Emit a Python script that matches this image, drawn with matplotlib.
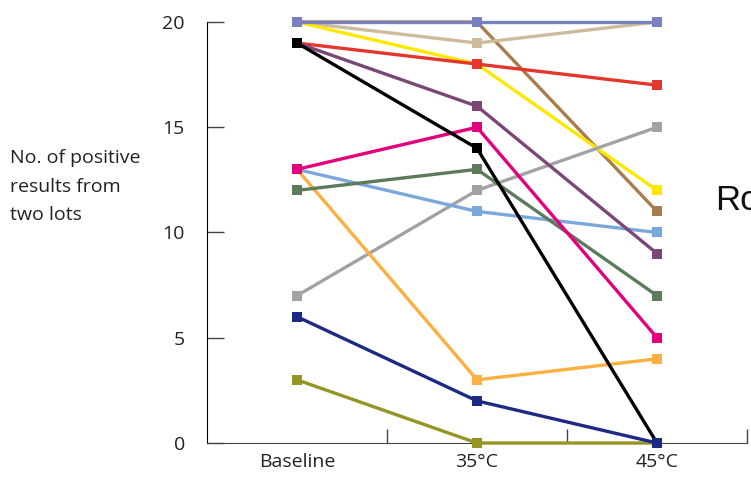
import matplotlib.pyplot as plt

conditions = ['Baseline', '35°C', '45°C']

# positive results per assay
slate = [20, 20, 20]
tan = [20, 19, 20]
yellow = [20, 18, 12]
brown = [20, 20, 11]
red = [19, 18, 17]
purple = [19, 16, 9]
black = [19, 14, 0]
magenta = [13, 15, 5]
light_blue = [13, 11, 10]
green = [12, 13, 7]
gray = [7, 12, 15]
orange = [13, 3, 4]
navy = [6, 2, 0]
olive = [3, 0, 0]

series = [
    (brown, '#a97c50'),
    (tan, '#cdbb9b'),
    (yellow, '#ffe800'),
    (slate, '#7880bd'),
    (red, '#e5362d'),
    (gray, '#a2a2a2'),
    (orange, '#fbb040'),
    (light_blue, '#7aa8db'),
    (green, '#5b7b5b'),
    (purple, '#7c4777'),
    (magenta, '#e3007d'),
    (black, '#000000'),
    (olive, '#949525'),
    (navy, '#1c2985'),
]

plt.rcParams['font.family'] = ['Open Sans', 'DejaVu Sans']

fig = plt.figure(figsize=(7.51, 4.83), dpi=100)
ax = fig.add_axes([0.2756, 0.0828, 0.7191, 0.8717])

x = list(range(len(conditions)))
for values, color in series:
    ax.plot(x, values, color=color, lw=2.4, marker='s', markersize=7.5,
            markeredgewidth=0, clip_on=False, zorder=3)

ax.set_xlim(-0.5, 2.5)
ax.set_ylim(0, 20)
ax.set_yticks([0, 5, 10, 15, 20])
ax.set_xticks(x)
ax.set_xticklabels(conditions)
ax.set_xticks([0.5, 1.5, 2.5], minor=True)
ax.tick_params(axis='x', which='major', length=0, pad=7, labelsize=14, labelcolor='#222222')
ax.tick_params(axis='x', which='minor', direction='in', length=10, width=1, color='#444444')
ax.tick_params(axis='y', direction='in', length=12, width=1, color='#444444',
               pad=16, labelsize=14, labelcolor='#222222')

for side in ['top', 'right']:
    ax.spines[side].set_visible(False)
ax.spines['left'].set_color('#000000')
ax.spines['bottom'].set_color('#444444')

fig.text(0.013, 0.613, 'No. of positive\nresults from\ntwo lots', ha='left', va='center',
         fontsize=14, color='#222222', linespacing=1.75)
fig.text(0.952, 0.585, 'Ro', ha='left', va='center', fontsize=25, color='#111111',
         family='Liberation Sans')

fig.savefig('out.png', dpi=100)
